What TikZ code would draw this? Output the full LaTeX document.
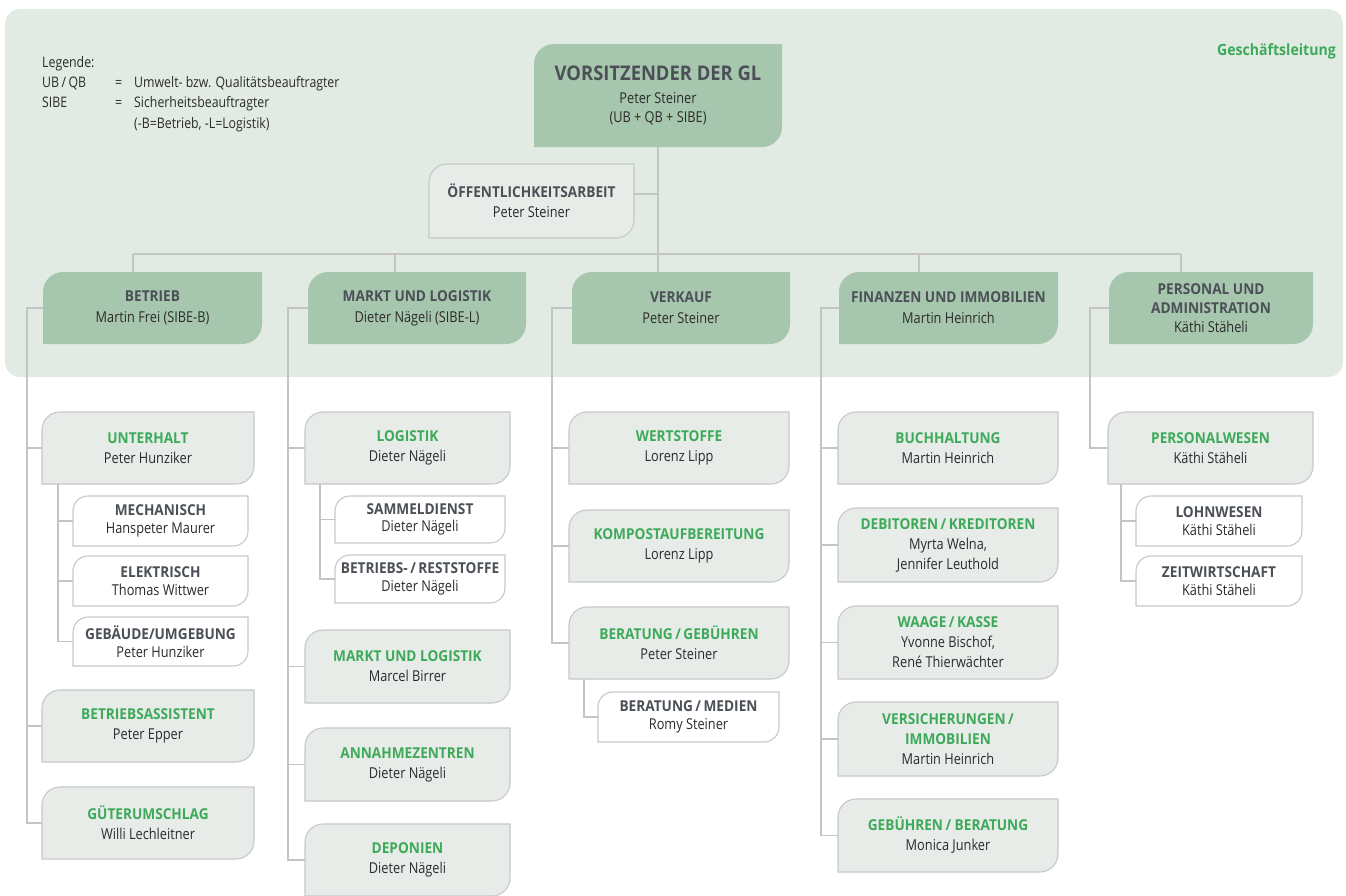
\documentclass[tikz,border=0pt]{standalone}
\usepackage{fontspec}
\setmainfont{Open Sans}[FakeStretch=0.85, BoldFeatures={FakeStretch=0.91}]
\definecolor{panelg}{RGB}{225,235,227}
\definecolor{deptg}{RGB}{167,198,174}
\definecolor{childg}{RGB}{231,236,232}
\definecolor{bordg}{RGB}{200,200,200}
\definecolor{lineg}{RGB}{196,196,196}
\definecolor{ogreen}{RGB}{61,170,90}
\definecolor{titleg}{RGB}{75,80,87}
\definecolor{namec}{RGB}{43,43,43}
\tikzset{
  conn/.style={draw=lineg, line width=1.4pt},
  deptbox/.style={fill=deptg},
  childbox/.style={fill=childg, draw=bordg, line width=1.1pt},
  subbox/.style={fill=white, draw=bordg, line width=1.1pt},
  deptfont/.style={font=\fontsize{15}{21}\selectfont, text=namec},
  vorsfont/.style={font=\fontsize{15}{19}\selectfont, text=namec},
  childfont/.style={font=\fontsize{15}{20}\selectfont, text=namec},
  subfont/.style={font=\fontsize{15}{17.5}\selectfont, text=namec},
  legend/.style={anchor=base west, inner sep=0pt, font=\fontsize{14.5}{16}\selectfont, text=namec},
}
\newcommand{\GT}[1]{{\bfseries\color{ogreen}#1}}
\newcommand{\DT}[1]{{\bfseries\color{titleg}#1}}
% #1 path style, #2 node style, #3 name, #4 x1, #5 y1, #6 x2, #7 y2, #8 radius, #9 text
\newcommand{\OB}[9]{%
  \path[#1] (#4,#7) -- (#4,{#5+#8}) .. controls (#4,{#5+0.448*#8}) and ({#4+0.448*#8},#5) .. ({#4+#8},#5)
    -- (#6,#5) -- (#6,{#7-#8}) .. controls (#6,{#7-0.448*#8}) and ({#6-0.448*#8},#7) .. ({#6-#8},#7) -- cycle;
  \node[#2, inner sep=0pt, minimum width={#6-#4}, minimum height={#7-#5}, align=center] (#3) at ({(#4+#6)/2},{(#5+#7)/2}) {#9};%
}
\begin{document}
\begin{tikzpicture}[x=1pt, y=-1pt]
\useasboundingbox (0,0) rectangle (1346,895);
\fill[panelg, rounded corners=15pt] (5,9) rectangle (1343,377);

% legend
\node[legend] (lg0) at (42,67) {Legende:};
\node[legend] (lg1) at (42,87) {UB\,/\,QB};
\node[legend] (lg2) at (115,87) {=};
\node[legend] (lg3) at (134,87) {Umwelt- bzw. Qualitätsbeauftragter};
\node[legend] (lg4) at (42,107) {SIBE};
\node[legend] (lg5) at (115,107) {=};
\node[legend] (lg6) at (134,107) {Sicherheitsbeauftragter};
\node[legend] (lg7) at (134,128) {(-B=Betrieb, -L=Logistik)};

\node[anchor=base east, inner sep=0pt, font=\fontsize{15.5}{20}\selectfont\bfseries, text=ogreen] (gl) at (1336,55) {Geschäftsleitung};

% top
\OB{deptbox}{vorsfont}{vors}{534}{44}{782}{147}{20}{{\fontsize{20.2}{23}\selectfont\DT{VORSITZENDER DER GL}}\\[4pt]Peter Steiner\\(UB + QB + SIBE)}
\OB{childbox}{childfont}{oeff}{429}{164}{634}{238}{18}{\DT{ÖFFENTLICHKEITSARBEIT}\\Peter Steiner}

% departments
\OB{deptbox}{deptfont}{betrieb}{43}{272}{262}{344}{20}{\DT{BETRIEB}\\Martin Frei (SIBE-B)}
\OB{deptbox}{deptfont}{markt}{308}{272}{526}{344}{20}{\DT{MARKT UND LOGISTIK}\\Dieter Nägeli (SIBE-L)}
\OB{deptbox}{deptfont}{verkauf}{572}{272}{790}{344}{20}{\DT{VERKAUF}\\Peter Steiner}
\OB{deptbox}{deptfont}{finanz}{839}{272}{1058}{344}{20}{\DT{FINANZEN UND IMMOBILIEN}\\Martin Heinrich}
\OB{deptbox}{vorsfont}{personal}{1109}{272}{1313}{344}{20}{\DT{PERSONAL UND}\\\DT{ADMINISTRATION}\\Käthi Stäheli}

% column 1
\OB{childbox}{childfont}{unterh}{42}{412}{254}{484}{18}{\GT{UNTERHALT}\\Peter Hunziker}
\OB{subbox}{subfont}{mech}{73}{496}{248}{546}{15}{\DT{MECHANISCH}\\Hanspeter Maurer}
\OB{subbox}{subfont}{elek}{73}{556}{248}{606}{15}{\DT{ELEKTRISCH}\\Thomas Wittwer}
\OB{subbox}{subfont}{gebaeude}{73}{617}{248}{666}{15}{\DT{GEBÄUDE/UMGEBUNG}\\Peter Hunziker}
\OB{childbox}{childfont}{bass}{42}{690}{254}{762}{18}{\GT{BETRIEBSASSISTENT}\\Peter Epper}
\OB{childbox}{childfont}{guet}{42}{787}{254}{859}{18}{\GT{GÜTERUMSCHLAG}\\Willi Lechleitner}

% column 2
\OB{childbox}{childfont}{logist}{305}{412}{510}{484}{18}{\GT{LOGISTIK}\\Dieter Nägeli}
\OB{subbox}{subfont}{sammel}{335}{496}{505}{543}{15}{\DT{SAMMELDIENST}\\Dieter Nägeli}
\OB{subbox}{subfont}{rest}{335}{555}{505}{603}{15}{\DT{BETRIEBS-\,/\,RESTSTOFFE}\\Dieter Nägeli}
\OB{childbox}{childfont}{mlog}{305}{630}{510}{703}{18}{\GT{MARKT UND LOGISTIK}\\Marcel Birrer}
\OB{childbox}{childfont}{annahme}{305}{728}{510}{801}{18}{\GT{ANNAHMEZENTREN}\\Dieter Nägeli}
\OB{childbox}{childfont}{depon}{305}{824}{510}{896}{18}{\GT{DEPONIEN}\\Dieter Nägeli}

% column 3
\OB{childbox}{childfont}{wert}{569}{412}{789}{484}{18}{\GT{WERTSTOFFE}\\Lorenz Lipp}
\OB{childbox}{childfont}{kompost}{569}{510}{789}{582}{18}{\GT{KOMPOSTAUFBEREITUNG}\\Lorenz Lipp}
\OB{childbox}{childfont}{beratg}{569}{607}{789}{679}{18}{\GT{BERATUNG\,/\,GEBÜHREN}\\Peter Steiner}
\OB{subbox}{subfont}{medien}{598}{692}{779}{742}{15}{\DT{BERATUNG\,/\,MEDIEN}\\Romy Steiner}

% column 4
\OB{childbox}{childfont}{buch}{838}{412}{1058}{484}{18}{\GT{BUCHHALTUNG}\\Martin Heinrich}
\OB{childbox}{childfont}{debit}{838}{508}{1058}{582}{18}{\GT{DEBITOREN\,/\,KREDITOREN}\\Myrta Welna,\\Jennifer Leuthold}
\OB{childbox}{childfont}{waage}{838}{606}{1058}{679}{18}{\GT{WAAGE\,/\,KASSE}\\Yvonne Bischof,\\René Thierwächter}
\OB{childbox}{childfont}{versich}{838}{702}{1058}{776}{18}{\GT{VERSICHERUNGEN\,/}\\\GT{IMMOBILIEN}\\Martin Heinrich}
\OB{childbox}{childfont}{gebber}{838}{799}{1058}{872}{18}{\GT{GEBÜHREN\,/ BERATUNG}\\Monica Junker}

% column 5
\OB{childbox}{childfont}{perswes}{1108}{412}{1313}{484}{18}{\GT{PERSONALWESEN}\\Käthi Stäheli}
\OB{subbox}{subfont}{lohn}{1136}{496}{1302}{546}{15}{\DT{LOHNWESEN}\\Käthi Stäheli}
\OB{subbox}{subfont}{zeit}{1136}{556}{1302}{606}{15}{\DT{ZEITWIRTSCHAFT}\\Käthi Stäheli}

% connectors: top level
\coordinate (D1) at (133,254);
\coordinate (D2) at (395,254);
\coordinate (D4) at (919,254);
\coordinate (D5) at (1181,254);
\draw[conn] (D1) -- (D5);
\draw[conn] (D1) -- (D1 |- betrieb.north);
\draw[conn] (D2) -- (D2 |- markt.north);
\draw[conn] (D4) -- (D4 |- finanz.north);
\draw[conn] (D5) -- (D5 |- personal.north);
\draw[conn] (vors.south) -- (vors.south |- verkauf.north);
\draw[conn] ([yshift=7pt]oeff.east) -- ([yshift=7pt]oeff.east -| vors.south);

% column lines
\coordinate (L1) at (27,0);
\coordinate (L2) at (288,0);
\coordinate (L3) at (552,0);
\coordinate (L4) at (821,0);
\coordinate (L5) at (1090,0);
\coordinate (S1) at (58,0);
\coordinate (S2) at (320,0);
\coordinate (S3) at (584,0);
\coordinate (S5) at (1121,0);

\draw[conn] (betrieb.west) -| (L1 |- guet.west) -- (guet.west);
\foreach \n in {unterh,bass} \draw[conn] (\n.west) -- (\n.west -| L1);
\draw[conn] (S1 |- unterh.south) |- (gebaeude.west);
\foreach \n in {mech,elek} \draw[conn] (\n.west) -- (\n.west -| S1);

\draw[conn] (markt.west) -| (L2 |- depon.west) -- (depon.west);
\foreach \n in {logist,mlog,annahme} \draw[conn] (\n.west) -- (\n.west -| L2);
\draw[conn] (S2 |- logist.south) |- (rest.west);
\draw[conn] (sammel.west) -- (sammel.west -| S2);

\draw[conn] (verkauf.west) -| (L3 |- beratg.west) -- (beratg.west);
\foreach \n in {wert,kompost} \draw[conn] (\n.west) -- (\n.west -| L3);
\draw[conn] (S3 |- beratg.south) |- (medien.west);

\draw[conn] (finanz.west) -| (L4 |- gebber.west) -- (gebber.west);
\foreach \n in {buch,debit,waage,versich} \draw[conn] (\n.west) -- (\n.west -| L4);

\draw[conn] (personal.west) -| (L5 |- perswes.west) -- (perswes.west);
\draw[conn] (S5 |- perswes.south) |- (zeit.west);
\draw[conn] (lohn.west) -- (lohn.west -| S5);
\end{tikzpicture}
\end{document}
